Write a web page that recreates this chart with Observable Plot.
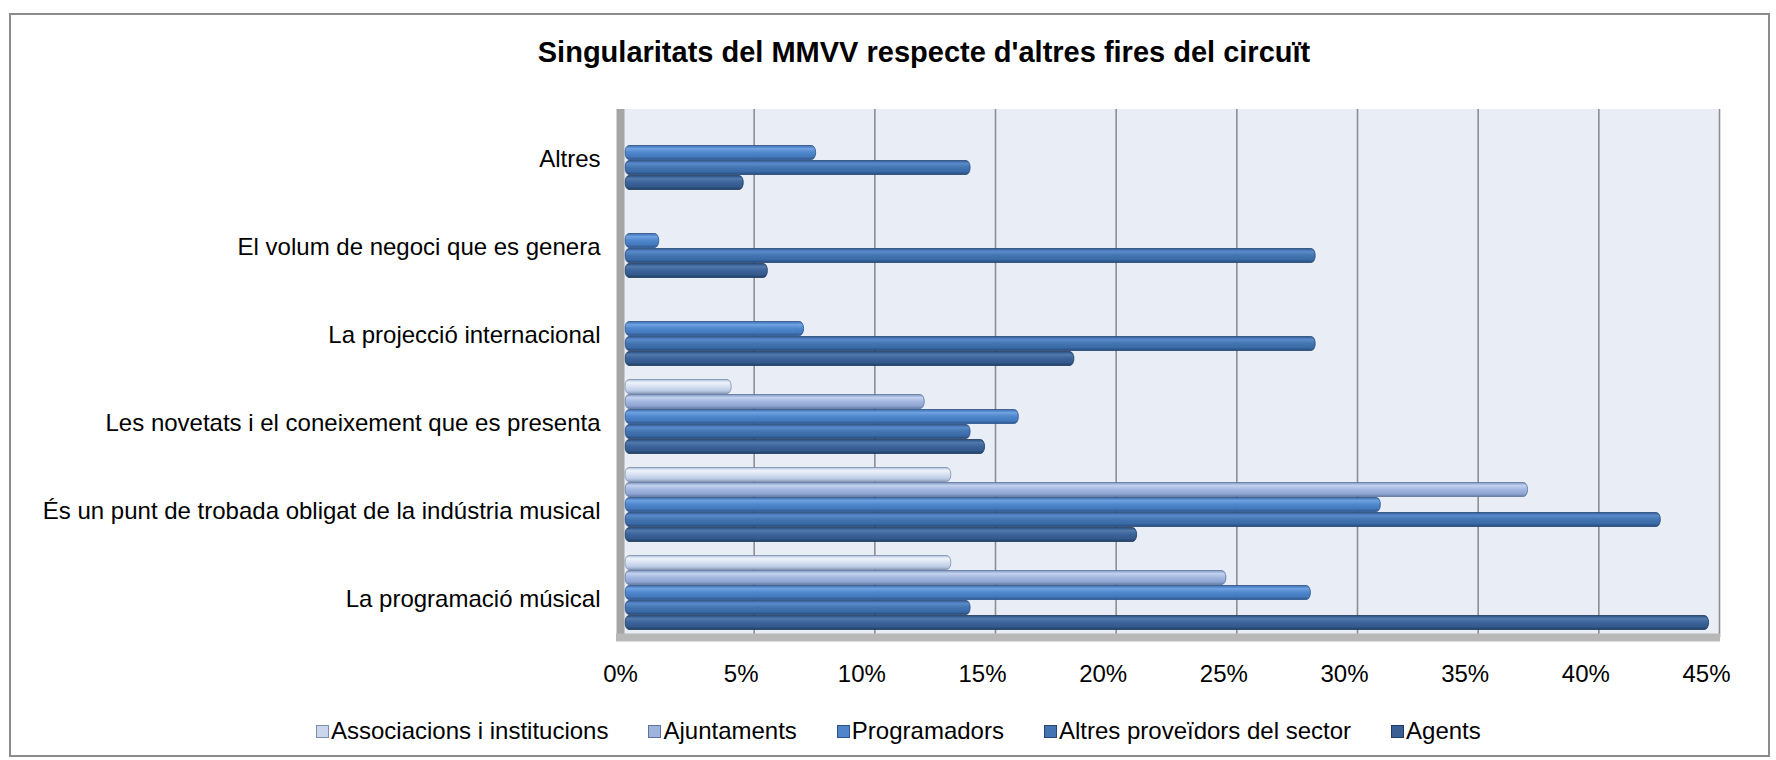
<!DOCTYPE html>
<html><head><meta charset="utf-8">
<script src="https://cdn.jsdelivr.net/npm/d3@7"></script>
<script src="https://cdn.jsdelivr.net/npm/@observablehq/plot@0.6"></script>
<style>
html,body{margin:0;padding:0;background:#fff;}
#wrap{position:relative;width:1776px;height:760px;font-family:"Liberation Sans",Arial,sans-serif;color:#000;overflow:hidden;}
#frame{position:absolute;left:9px;top:13px;width:1761px;height:744px;border:2px solid #8c8c8c;box-sizing:border-box;}
#title{position:absolute;top:38px;left:924px;transform:translateX(-50%);white-space:nowrap;font-weight:bold;font-size:29px;line-height:1;}
#chart{position:absolute;left:0;top:95px;}
#legend{position:absolute;top:719px;left:316px;display:flex;gap:40px;font-size:24px;line-height:1;white-space:nowrap;}
#legend .item{display:flex;align-items:center;}
#legend .sw{width:11px;height:11px;border:1.5px solid #3b5b88;margin-right:2px;}
</style></head>
<body><div id="wrap"><div id="frame"></div><div id="title"></div><div id="chart"></div><div id="legend"></div></div>
<script>
const chartTitle = "Singularitats del MMVV respecte d'altres fires del circuït";
const categories = [
  "Altres",
  "El volum de negoci que es genera",
  "La projecció internacional",
  "Les novetats i el coneixement que es presenta",
  "És un punt de trobada obligat de la indústria musical",
  "La programació músical"
];
const series = ["Associacions i institucions", "Ajuntaments", "Programadors", "Altres proveïdors del sector", "Agents"];
const associacions = [0, 0, 0, 4.4, 13.5, 13.5];
const ajuntaments = [0, 0, 0, 12.4, 37.4, 24.9];
const programadors = [7.9, 1.4, 7.4, 16.3, 31.3, 28.4];
const altresProveidors = [14.3, 28.6, 28.6, 14.3, 42.9, 14.3];
const agents = [4.9, 5.9, 18.6, 14.9, 21.2, 44.9];
const xTicks = [0, 5, 10, 15, 20, 25, 30, 35, 40, 45];

const seriesValues = [associacions, ajuntaments, programadors, altresProveidors, agents];
const seriesStyle = [
  {stops: ["#aebfdc", "#eef3fb", "#d6e0f2", "#bccbe6", "#8f9fbd"], edge: "#7d8daa", swatch: "#c9d6ee"},
  {stops: ["#8097c2", "#c2d2ef", "#a3b7df", "#8ea5d2", "#6a7fa8"], edge: "#5f739c", swatch: "#9fb4dc"},
  {stops: ["#3c6cab", "#6fa2e2", "#4f87cc", "#4479bd", "#2d5690"], edge: "#2b538a", swatch: "#4f86cb"},
  {stops: ["#335f99", "#5a8bc9", "#4475b3", "#3a69a5", "#274b7d"], edge: "#244675", swatch: "#4373b0"},
  {stops: ["#2c4f80", "#5079ad", "#3c6398", "#34598b", "#213e66"], edge: "#1f3a60", swatch: "#3a5f94"}
];

const data = [];
categories.forEach((c, i) => series.forEach((s, j) => data.push({category: c, series: s, value: seriesValues[j][i]})));

document.getElementById("title").textContent = chartTitle;

const barMarks = series.map((s, j) => Plot.barX(data.filter(d => d.series === s), {
  fy: "category", y: "series", x1: 0, x2: "value", dx: 5,
  fill: `url(#grad${j})`, stroke: seriesStyle[j].edge, strokeWidth: 0.8, rx: 4, ry: 7
}));

const hasAxisMarks = typeof Plot.axisFy === "function";
const fyOpts = {domain: categories, padding: 0, label: null, tickSize: 0, tickPadding: 20};
if (hasAxisMarks) fyOpts.axis = null;

const H = 600, MT = 12.5, MB = 57.5;
const plot = Plot.plot({
  width: 1776,
  height: H,
  marginLeft: 620,
  marginRight: 70,
  marginTop: MT,
  marginBottom: MB,
  style: {fontFamily: "'Liberation Sans', Arial, sans-serif", fontSize: "24px", color: "#000", background: "transparent"},
  x: {domain: [0, 45], ticks: xTicks, tickFormat: d => d + "%", tickSize: 0, tickPadding: 27, label: null},
  y: {domain: series, axis: null, paddingInner: 0.05, paddingOuter: 0.34},
  fy: fyOpts,
  marks: [
    Plot.barX([{}], {x1: xTicks[0], x2: xTicks[xTicks.length - 1], insetRight: -14, fill: "#e9edf6"}),
    Plot.ruleX(xTicks.slice(1), {stroke: "#8e8e8e", strokeWidth: 1.6, dx: 13}),
    ...barMarks,
    Plot.ruleX([0], {stroke: "#a5a5a5", strokeWidth: 8}),
    ...(hasAxisMarks ? [Plot.axisFy({anchor: "left", dy: 6, tickSize: 0, tickPadding: 20, label: null})] : [])
  ]
});

const svg = plot.tagName.toLowerCase() === "svg" ? plot : plot.querySelector("svg");
const ns = "http://www.w3.org/2000/svg";
const defs = document.createElementNS(ns, "defs");
seriesStyle.forEach((st, j) => {
  const g = document.createElementNS(ns, "linearGradient");
  g.setAttribute("id", `grad${j}`);
  g.setAttribute("x1", "0"); g.setAttribute("y1", "0");
  g.setAttribute("x2", "0"); g.setAttribute("y2", "1");
  [0, 0.22, 0.5, 0.8, 1].forEach((o, k) => {
    const stop = document.createElementNS(ns, "stop");
    stop.setAttribute("offset", o);
    stop.setAttribute("stop-color", st.stops[k]);
    g.appendChild(stop);
  });
  defs.appendChild(g);
});
svg.insertBefore(defs, svg.firstChild);

const xs = plot.scale("x");
const x0 = xs.apply(0), x45 = xs.apply(45);
const floor = document.createElementNS(ns, "rect");
floor.setAttribute("x", x0 - 4);
floor.setAttribute("y", H - MB - 4);
floor.setAttribute("width", x45 - x0 + 18);
floor.setAttribute("height", 8);
floor.setAttribute("fill", "#b8b8b8");
svg.appendChild(floor);

document.getElementById("chart").appendChild(plot);

const legend = document.getElementById("legend");
series.forEach((s, j) => {
  const item = document.createElement("div");
  item.className = "item";
  const sw = document.createElement("span");
  sw.className = "sw";
  sw.style.background = seriesStyle[j].swatch;
  sw.style.borderColor = seriesStyle[j].edge;
  const tx = document.createElement("span");
  tx.textContent = s;
  item.appendChild(sw); item.appendChild(tx);
  legend.appendChild(item);
});
</script></body></html>
